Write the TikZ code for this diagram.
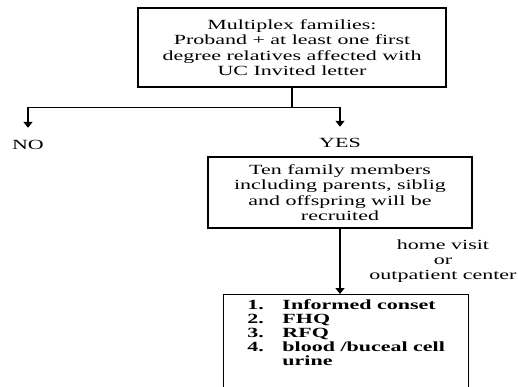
\documentclass[tikz,border=0pt]{standalone}
\usepackage{fontspec}
\setmainfont[FakeStretch=1.57]{Liberation Serif}
\usetikzlibrary{arrows.meta}
\tikzset{
	txt/.style={font=\fontsize{14}{15.3}\selectfont,align=center},
	box/.style={txt,draw,line width=1.4pt},
	arr/.style={-{Triangle[width=9pt,length=6pt]},line width=1.4pt},
}
\begin{document}
\begin{tikzpicture}[x=1pt,y=-1pt]
	\useasboundingbox (0,0) rectangle (518,387);
	\clip (0,0) rectangle (518,387);
	\node[box,minimum width=308pt,minimum height=79pt] (fam) at (292,47.5) {Multiplex families:\\Proband + at least one first\\degree relatives affected with\\UC Invited letter};

	\node[txt] (no) at (28,145) {NO};
	\node[txt] (yes) at (340,143) {YES};
	\draw[line width=1.4pt] (fam.south) -- ++(0,20) coordinate (split);
	\draw[arr] (split) -| ([yshift=9pt]no.north);
	\draw[arr] (split) -| ([yshift=8pt]yes.north);

	\node[box,minimum width=264pt,minimum height=71pt] (rec) at (340,192.5) {Ten family members\\including parents, siblig\\and offspring will be\\recruited};
	%\node[txt] at (443,261) {};
	\node[txt] (visit) at (443,261) {home visit\\or\\outpatient center};

	\node[box,anchor=north west,align=left,minimum width=245pt,inner xsep=11pt,inner ysep=5pt,text depth=110pt,font=\fontsize{14}{14}\selectfont\bfseries] (items) at (223,294) {\makebox[35pt][l]{1.}Informed conset\\\makebox[35pt][l]{2.}FHQ\\\makebox[35pt][l]{3.}RFQ\\\makebox[35pt][l]{4.}blood /buceal cell\\\hspace*{35pt}urine};
	\draw[arr] (rec.south) -- (rec.south |- items.north);
\end{tikzpicture}
\end{document}
